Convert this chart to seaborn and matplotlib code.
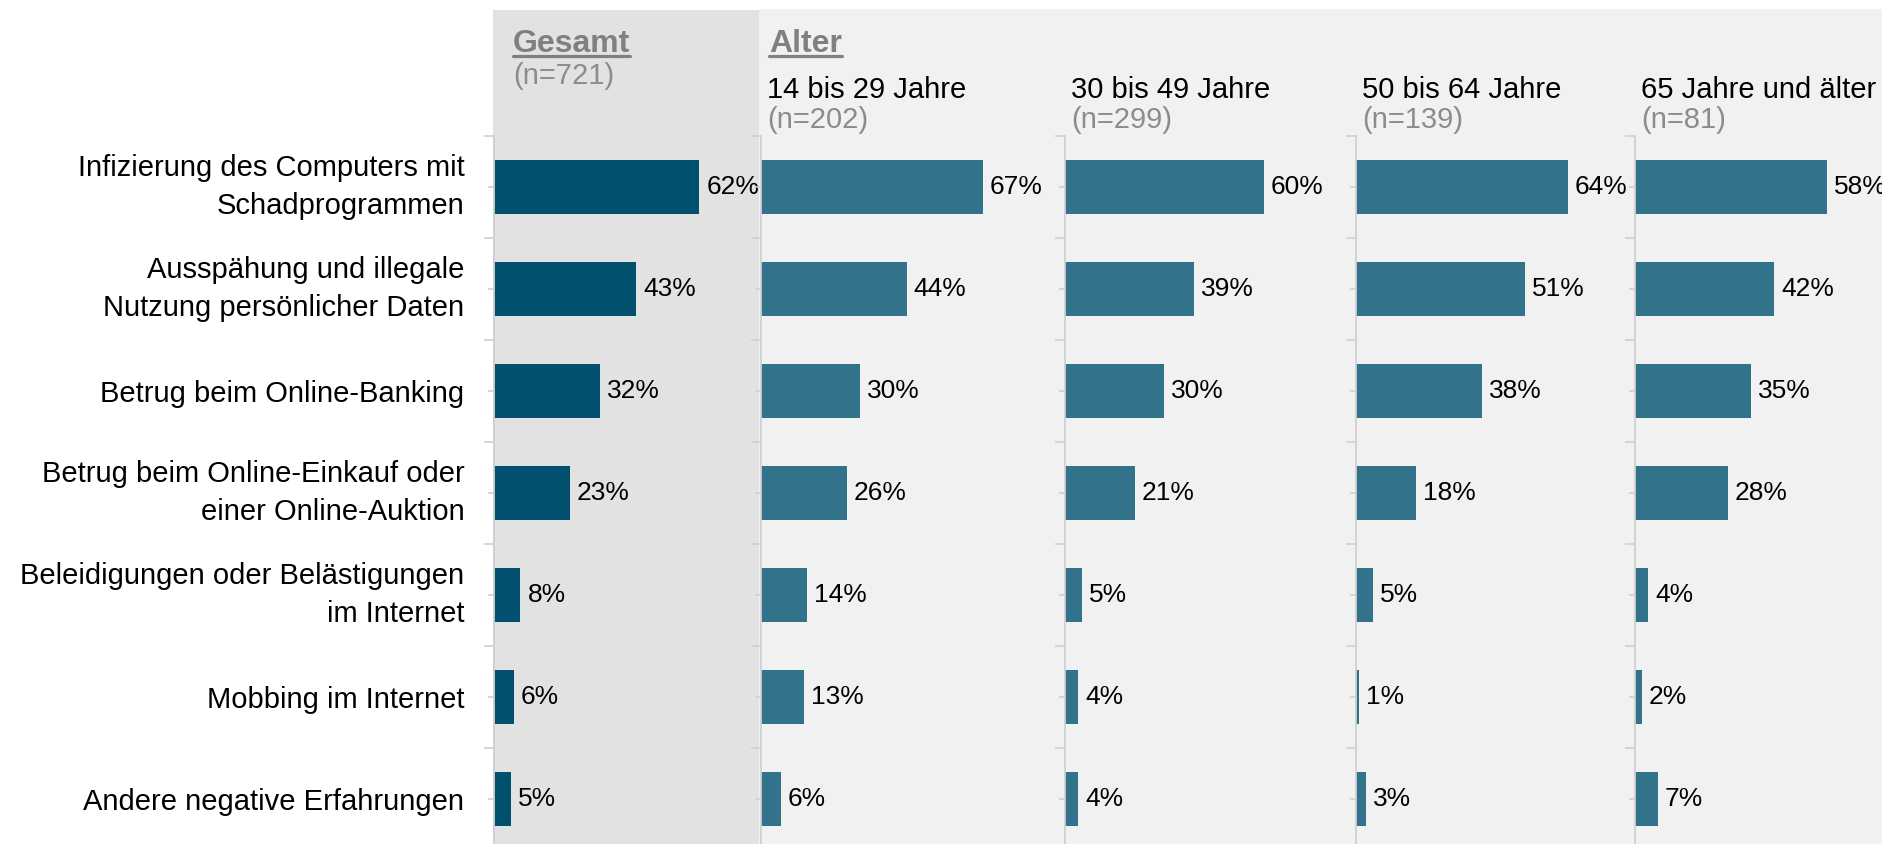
import numpy as np
import pandas as pd
import matplotlib.pyplot as plt
import seaborn as sns
from matplotlib.patches import Rectangle
from matplotlib.lines import Line2D

# --- Daten ---
categories = [
    'Infizierung des Computers mit\nSchadprogrammen',
    'Ausspähung und illegale\nNutzung persönlicher Daten',
    'Betrug beim Online-Banking',
    'Betrug beim Online-Einkauf oder\neiner Online-Auktion',
    'Beleidigungen oder Belästigungen\nim Internet',
    'Mobbing im Internet',
    'Andere negative Erfahrungen',
]
gruppen = ['Gesamt', '14 bis 29 Jahre', '30 bis 49 Jahre', '50 bis 64 Jahre', '65 Jahre und älter']
fallzahlen = [721, 202, 299, 139, 81]
gesamt = [62, 43, 32, 23, 8, 6, 5]
alter_14_29 = [67, 44, 30, 26, 14, 13, 6]
alter_30_49 = [60, 39, 30, 21, 5, 4, 4]
alter_50_64 = [64, 51, 38, 18, 5, 1, 3]
alter_65 = [58, 42, 35, 28, 4, 2, 7]
werte = [gesamt, alter_14_29, alter_30_49, alter_50_64, alter_65]

# --- Layout (Pixel) ---
W, H = 1883, 844
panel_left = [494, 761, 1065, 1356, 1635]
panel_right = panel_left[1:] + [W]
px_pro_prozent = 3.31
oben, zeile = 136, 102

sns.set_style('white')
plt.rcParams['font.family'] = ['Liberation Sans', 'DejaVu Sans']

fig = plt.figure(figsize=(W / 100, H / 100), dpi=100, facecolor='white')

# Hintergrundflaechen
fig.add_artist(Rectangle((493 / W, 0), (759 - 493) / W, (H - 10) / H, transform=fig.transFigure,
                         facecolor='#e2e2e2', edgecolor='none', zorder=-2))
fig.add_artist(Rectangle((759 / W, 0), (W - 759) / W, (H - 9) / H, transform=fig.transFigure,
                         facecolor='#f1f1f1', edgecolor='none', zorder=-2))

achsenfarbe = '#d0d0d0'
for i, (vals, l, r) in enumerate(zip(werte, panel_left, panel_right)):
    ax = fig.add_axes([l / W, (H - oben - 7 * zeile) / H, (r - l) / W, 7 * zeile / H])
    ax.set_facecolor('none')
    df = pd.DataFrame({'kategorie': categories, 'wert': vals})
    farbe = '#00506e' if i == 0 else '#33728b'
    sns.barplot(data=df, x='wert', y='kategorie', color=farbe, saturation=1, width=0.52,
                linewidth=0, ax=ax)
    ax.set_xlim(0, (r - l) / px_pro_prozent)
    ax.set_xlabel(''); ax.set_ylabel('')
    ax.xaxis.set_visible(False)
    for s in ['top', 'right', 'bottom']:
        ax.spines[s].set_visible(False)
    ax.spines['left'].set_color(achsenfarbe)
    ax.spines['left'].set_linewidth(1.3)
    ax.set_yticks(np.arange(-0.5, 7, 1), minor=True)
    ax.tick_params(axis='y', which='major', left=True, length=4.3, width=1.2, color=achsenfarbe,
                   pad=17, labelsize=21, labelcolor='black')
    ax.tick_params(axis='y', which='minor', left=True, length=7.5, width=1.2, color=achsenfarbe)
    if i > 0:
        ax.tick_params(axis='y', labelleft=False)
    else:
        for lbl in ax.get_yticklabels():
            if '\n' in lbl.get_text():
                lbl.set_linespacing(1.42)
                lbl.set_verticalalignment('center')
    ax.bar_label(ax.containers[0], labels=[f'{v}%' for v in vals], padding=5, fontsize=19,
                 color='black')

# --- Kopfzeilen ---
def fx(px): return px / W
def fy(px): return 1 - px / H

grau = '#808080'
kopf_gesamt = fig.text(fx(513), fy(52), 'Gesamt', fontsize=23, fontweight='bold', color=grau)
kopf_alter = fig.text(fx(769), fy(52), 'Alter', fontsize=23, fontweight='bold', color=grau)
fig.text(fx(513), fy(84), f'(n={fallzahlen[0]})', fontsize=21, color='#8c8c8c')
for name, n, l in zip(gruppen[1:], fallzahlen[1:], panel_left[1:]):
    fig.text(fx(l + 6), fy(98), name, fontsize=21, color='black')
    fig.text(fx(l + 6), fy(128), f'(n={n})', fontsize=21, color='#8c8c8c')

# Unterstreichung der Ueberschriften
fig.canvas.draw()
renderer = fig.canvas.get_renderer()
for t in [kopf_gesamt, kopf_alter]:
    bb = t.get_window_extent(renderer).transformed(fig.transFigure.inverted())
    fig.add_artist(Line2D([bb.x0, bb.x1], [fy(56), fy(56)], transform=fig.transFigure,
                          color=grau, linewidth=2.3))

fig.savefig('out.png', dpi=100)
